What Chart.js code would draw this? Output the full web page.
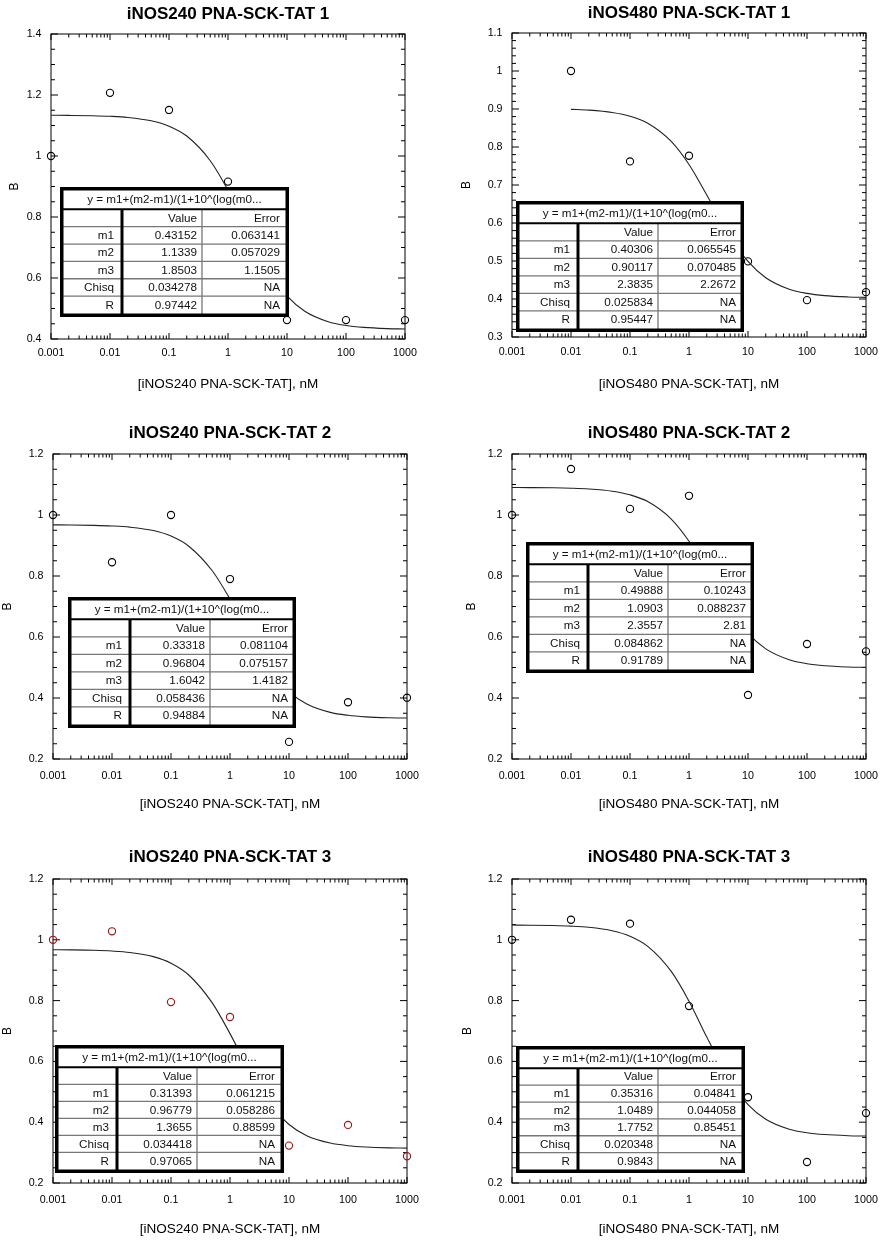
<!DOCTYPE html>
<html>
<head>
<meta charset="utf-8">
<script src="https://cdn.jsdelivr.net/npm/chart.js@4.4.1/dist/chart.umd.min.js"></script>
<style>
  body { margin: 0; background: #fff; width: 881px; height: 1241px; position: relative; overflow: hidden; }
  canvas { position: absolute; }
</style>
</head>
<body>
<canvas id="p1" width="440" height="400" style="left:0px;top:0px"></canvas>
<canvas id="p2" width="440" height="400" style="left:440px;top:0px"></canvas>
<canvas id="p3" width="440" height="400" style="left:0px;top:420px"></canvas>
<canvas id="p4" width="440" height="400" style="left:440px;top:420px"></canvas>
<canvas id="p5" width="440" height="400" style="left:0px;top:845px"></canvas>
<canvas id="p6" width="440" height="400" style="left:440px;top:845px"></canvas>
<script>
// concentrations (nM), shared by all panels
const doseX = [0.001, 0.01, 0.1, 1, 10, 100, 1000];
const xTicks = [0.001, 0.01, 0.1, 1, 10, 100, 1000];
const xTickLabels = ['0.001', '0.01', '0.1', '1', '10', '100', '1000'];
const fitX = [0.001, 0.002, 0.005, 0.01, 0.02, 0.05, 0.1, 0.2, 0.5, 1, 2, 5, 10, 20, 50, 100, 200, 500, 1000];

// measured B values
const obs240_1 = [1.0, 1.207, 1.151, 0.916, 0.462, 0.462, 0.462];
const obs480_1 = [null, 1.0, 0.762, 0.777, 0.499, 0.397, 0.418];
const obs240_2 = [1.0, 0.845, 1.0, 0.79, 0.256, 0.386, 0.401];
const obs480_2 = [1.0, 1.151, 1.02, 1.063, 0.41, 0.577, 0.553];
const obs240_3 = [1.0, 1.028, 0.795, 0.746, 0.323, 0.391, 0.288];
const obs480_3 = [1.0, 1.066, 1.053, 0.782, 0.482, 0.269, 0.430];

// fitted curves
const fit240_1 = [1.1335, 1.1331, 1.1320, 1.1301, 1.1264, 1.1154, 1.0979, 1.0654, 0.9845, 0.8875, 0.7691, 0.6212, 0.5412, 0.4910, 0.4566, 0.4443, 0.4380, 0.4341, 0.4328];
const fit480_1 = [null, null, null, 0.8991, 0.8970, 0.8909, 0.8811, 0.8626, 0.8148, 0.7540, 0.6739, 0.5639, 0.4989, 0.4561, 0.4257, 0.4147, 0.4089, 0.4054, 0.4042];
const fit240_2 = [0.9676, 0.9673, 0.9661, 0.9641, 0.9602, 0.9489, 0.9308, 0.8977, 0.8172, 0.7243, 0.6158, 0.4874, 0.4210, 0.3803, 0.3529, 0.3432, 0.3382, 0.3352, 0.3342];
const fit480_2 = [1.0900, 1.0898, 1.0891, 1.0878, 1.0853, 1.0780, 1.0662, 1.0440, 0.9868, 0.9141, 0.8187, 0.6883, 0.6116, 0.5612, 0.5255, 0.5125, 0.5058, 0.5017, 0.5003];
const fit240_3 = [0.9673, 0.9668, 0.9654, 0.9630, 0.9584, 0.9447, 0.9232, 0.8843, 0.7925, 0.6914, 0.5792, 0.4542, 0.3925, 0.3557, 0.3313, 0.3227, 0.3184, 0.3157, 0.3148];
const fit480_3 = [1.0485, 1.0481, 1.0469, 1.0450, 1.0412, 1.0298, 1.0118, 0.9785, 0.8960, 0.7982, 0.6803, 0.5354, 0.4580, 0.4099, 0.3770, 0.3653, 0.3593, 0.3556, 0.3544];

// fit result tables
const paramNames = ['m1', 'm2', 'm3', 'Chisq', 'R'];
const fitFormula = 'y = m1+(m2-m1)/(1+10^(log(m0...';
const val240_1 = ['0.43152', '1.1339', '1.8503', '0.034278', '0.97442'];
const err240_1 = ['0.063141', '0.057029', '1.1505', 'NA', 'NA'];
const val480_1 = ['0.40306', '0.90117', '2.3835', '0.025834', '0.95447'];
const err480_1 = ['0.065545', '0.070485', '2.2672', 'NA', 'NA'];
const val240_2 = ['0.33318', '0.96804', '1.6042', '0.058436', '0.94884'];
const err240_2 = ['0.081104', '0.075157', '1.4182', 'NA', 'NA'];
const val480_2 = ['0.49888', '1.0903', '2.3557', '0.084862', '0.91789'];
const err480_2 = ['0.10243', '0.088237', '2.81', 'NA', 'NA'];
const val240_3 = ['0.31393', '0.96779', '1.3655', '0.034418', '0.97065'];
const err240_3 = ['0.061215', '0.058286', '0.88599', 'NA', 'NA'];
const val480_3 = ['0.35316', '1.0489', '1.7752', '0.020348', '0.9843'];
const err480_3 = ['0.04841', '0.044058', '0.85451', 'NA', 'NA'];

const FONT = "'Liberation Sans', Arial, Helvetica, sans-serif";
Chart.defaults.color = '#000';
Chart.defaults.font.family = FONT;

// inward ticks on all four sides + frame
const frameTicks = {
  id: 'frameTicks',
  beforeDatasetsDraw(chart, args, opts) {
    const {ctx, chartArea: {left, right, top, bottom}, scales: {x, y}} = chart;
    ctx.save();
    ctx.strokeStyle = '#000';
    ctx.lineWidth = 1;
    ctx.strokeRect(left, top, right - left, bottom - top);
    ctx.beginPath();
    const n = Math.round((y.max - y.min) / opts.minor);
    const per = Math.round(opts.step / opts.minor);
    for (let i = 0; i <= n; i++) {
      const py = y.getPixelForValue(y.min + i * opts.minor);
      const len = i % per === 0 ? 7 : 4;
      ctx.moveTo(left, py); ctx.lineTo(left + len, py);
      ctx.moveTo(right, py); ctx.lineTo(right - len, py);
    }
    xTicks.forEach((d, j) => {
      const kmax = j === xTicks.length - 1 ? 1 : 9;
      for (let k = 1; k <= kmax; k++) {
        const px = x.getPixelForValue(d * k);
        const len = k === 1 ? 6 : 3.5;
        ctx.moveTo(px, bottom); ctx.lineTo(px, bottom - len);
        ctx.moveTo(px, top); ctx.lineTo(px, top + len);
      }
    });
    ctx.stroke();
    ctx.restore();
  }
};

// the fit parameter box, opaque, on top of everything
const fitTable = {
  id: 'fitTable',
  afterDraw(chart, args, opts) {
    const {ctx} = chart;
    const [bx, by, bw, bh] = opts.box;
    ctx.save();
    ctx.fillStyle = '#fff';
    ctx.fillRect(bx, by, bw, bh);
    const headH = 22.3, rowH = (bh - 3.5 - headH) / 6;
    const c1 = 62, c2 = 142;
    // grey row lines
    ctx.strokeStyle = '#777';
    ctx.lineWidth = 1.3;
    ctx.beginPath();
    for (let i = 1; i < 6; i++) {
      const ly = by + headH + i * rowH;
      ctx.moveTo(bx, ly); ctx.lineTo(bx + bw, ly);
    }
    ctx.moveTo(bx + c2, by + headH); ctx.lineTo(bx + c2, by + bh);
    ctx.stroke();
    // black lines
    ctx.strokeStyle = '#000';
    ctx.lineWidth = 2;
    ctx.beginPath();
    ctx.moveTo(bx, by + headH); ctx.lineTo(bx + bw, by + headH);
    ctx.stroke();
    ctx.lineWidth = 3;
    ctx.beginPath();
    ctx.moveTo(bx + c1, by + headH); ctx.lineTo(bx + c1, by + bh);
    ctx.stroke();
    ctx.lineWidth = 3.5;
    ctx.strokeRect(bx + 1.75, by + 1.75, bw - 3.5, bh - 3.5);
    // text
    ctx.fillStyle = '#111';
    ctx.font = '11.7px ' + FONT;
    ctx.textBaseline = 'middle';
    ctx.textAlign = 'center';
    ctx.fillText(fitFormula, bx + bw / 2, by + 13);
    ctx.textAlign = 'right';
    const rows = [['', 'Value', 'Error']].concat(paramNames.map((p, i) => [p, opts.values[i], opts.errors[i]]));
    rows.forEach((r, i) => {
      const cy = by + headH + i * rowH + rowH / 2 + 0.5;
      ctx.fillText(r[0], bx + 54, cy);
      ctx.fillText(r[1], bx + 137, cy);
      ctx.fillText(r[2], bx + 220, cy);
    });
    ctx.restore();
  }
};

function drawPanel(id, p) {
  const W = 440, H = 400;
  const [L, T, R, B] = p.plot;
  const padLeft = Math.max(0, p.yTitleX - 7.2);
  const titleTop = p.titleY - 10.2;
  const pts = doseX.map((x, i) => ({x: x, y: p.obs[i]})).filter(d => d.y !== null);
  const curve = fitX.map((x, i) => ({x: x, y: p.fit[i]})).filter(d => d.y !== null);
  new Chart(document.getElementById(id), {
    type: 'scatter',
    data: {
      datasets: [
        {
          label: 'fit',
          data: curve,
          showLine: true,
          borderColor: '#222',
          borderWidth: 1.1,
          pointRadius: 0,
          cubicInterpolationMode: 'monotone',
          clip: false
        },
        {
          label: 'B',
          data: pts,
          pointRadius: 3.6,
          pointBorderWidth: 1.1,
          borderColor: p.pointColor,
          pointBorderColor: p.pointColor,
          pointBackgroundColor: 'rgba(255,255,255,0)',
          clip: false
        }
      ]
    },
    options: {
      responsive: false,
      animation: false,
      devicePixelRatio: 1,
      events: [],
      layout: {padding: {left: padLeft, right: W - R, top: 0, bottom: 0}},
      scales: {
        x: {
          type: 'logarithmic',
          position: 'bottom',
          min: 0.001,
          max: 1000,
          grid: {display: false, drawTicks: false},
          border: {display: false},
          afterBuildTicks: s => { s.ticks = xTicks.map(v => ({value: v})); },
          afterFit: s => { s.height = H - B; s.paddingLeft = 0; s.paddingRight = 0; },
          ticks: {
            autoSkip: false,
            maxRotation: 0,
            padding: p.xTickPad,
            font: {size: 10.7},
            callback: (v, i) => xTickLabels[i]
          },
          title: {display: true, text: p.xTitle, font: {size: 13.5}, padding: {top: 0, bottom: 7.9}}
        },
        y: {
          type: 'linear',
          min: p.ymin,
          max: p.ymax,
          grid: {display: false, drawTicks: false},
          border: {display: false},
          afterFit: s => { s.width = L - padLeft; s.paddingTop = 0; s.paddingBottom = 0; },
          ticks: {
            stepSize: p.step,
            padding: 9.5,
            font: {size: 10.7},
            callback: v => String(+v.toFixed(3))
          },
          title: {display: true, text: 'B', font: {size: 12}, padding: 0}
        }
      },
      plugins: {
        legend: {display: false},
        tooltip: {enabled: false},
        title: {
          display: true,
          text: p.title,
          fullSize: false,
          font: {size: 17, weight: 'bold'},
          padding: {top: titleTop, bottom: T - titleTop - 20.4}
        },
        frameTicks: {step: p.step, minor: p.minor},
        fitTable: {box: p.table, values: p.values, errors: p.errors}
      }
    },
    plugins: [frameTicks, fitTable]
  });
}

drawPanel('p1', {
  title: 'iNOS240 PNA-SCK-TAT 1', xTitle: '[iNOS240 PNA-SCK-TAT], nM',
  obs: obs240_1, fit: fit240_1, values: val240_1, errors: err240_1,
  ymin: 0.4, ymax: 1.4, step: 0.2, minor: 0.05, pointColor: '#000',
  plot: [51, 34, 405, 339], titleY: 14, yTitleX: 15, xTickPad: 7.6,
  table: [60, 187, 229, 130]
});
drawPanel('p2', {
  title: 'iNOS480 PNA-SCK-TAT 1', xTitle: '[iNOS480 PNA-SCK-TAT], nM',
  obs: obs480_1, fit: fit480_1, values: val480_1, errors: err480_1,
  ymin: 0.3, ymax: 1.1, step: 0.1, minor: 0.02, pointColor: '#000',
  plot: [72, 33, 426, 337], titleY: 13, yTitleX: 27, xTickPad: 8.6,
  table: [76, 201, 228, 131]
});
drawPanel('p3', {
  title: 'iNOS240 PNA-SCK-TAT 2', xTitle: '[iNOS240 PNA-SCK-TAT], nM',
  obs: obs240_2, fit: fit240_2, values: val240_2, errors: err240_2,
  ymin: 0.2, ymax: 1.2, step: 0.2, minor: 0.05, pointColor: '#000',
  plot: [53, 34, 407, 339], titleY: 13, yTitleX: 8, xTickPad: 11,
  table: [68, 177, 228, 131]
});
drawPanel('p4', {
  title: 'iNOS480 PNA-SCK-TAT 2', xTitle: '[iNOS480 PNA-SCK-TAT], nM',
  obs: obs480_2, fit: fit480_2, values: val480_2, errors: err480_2,
  ymin: 0.2, ymax: 1.2, step: 0.2, minor: 0.05, pointColor: '#000',
  plot: [72, 34, 426, 339], titleY: 13, yTitleX: 32, xTickPad: 11,
  table: [86, 122, 228, 131]
});
drawPanel('p5', {
  title: 'iNOS240 PNA-SCK-TAT 3', xTitle: '[iNOS240 PNA-SCK-TAT], nM',
  obs: obs240_3, fit: fit240_3, values: val240_3, errors: err240_3,
  ymin: 0.2, ymax: 1.2, step: 0.2, minor: 0.05, pointColor: '#9b1414',
  plot: [53, 34, 407, 338], titleY: 12, yTitleX: 7, xTickPad: 11,
  table: [55, 200, 229, 128]
});
drawPanel('p6', {
  title: 'iNOS480 PNA-SCK-TAT 3', xTitle: '[iNOS480 PNA-SCK-TAT], nM',
  obs: obs480_3, fit: fit480_3, values: val480_3, errors: err480_3,
  ymin: 0.2, ymax: 1.2, step: 0.2, minor: 0.05, pointColor: '#000',
  plot: [72, 34, 426, 338], titleY: 12, yTitleX: 28, xTickPad: 11,
  table: [76, 201, 229, 127]
});
</script>
</body>
</html>
